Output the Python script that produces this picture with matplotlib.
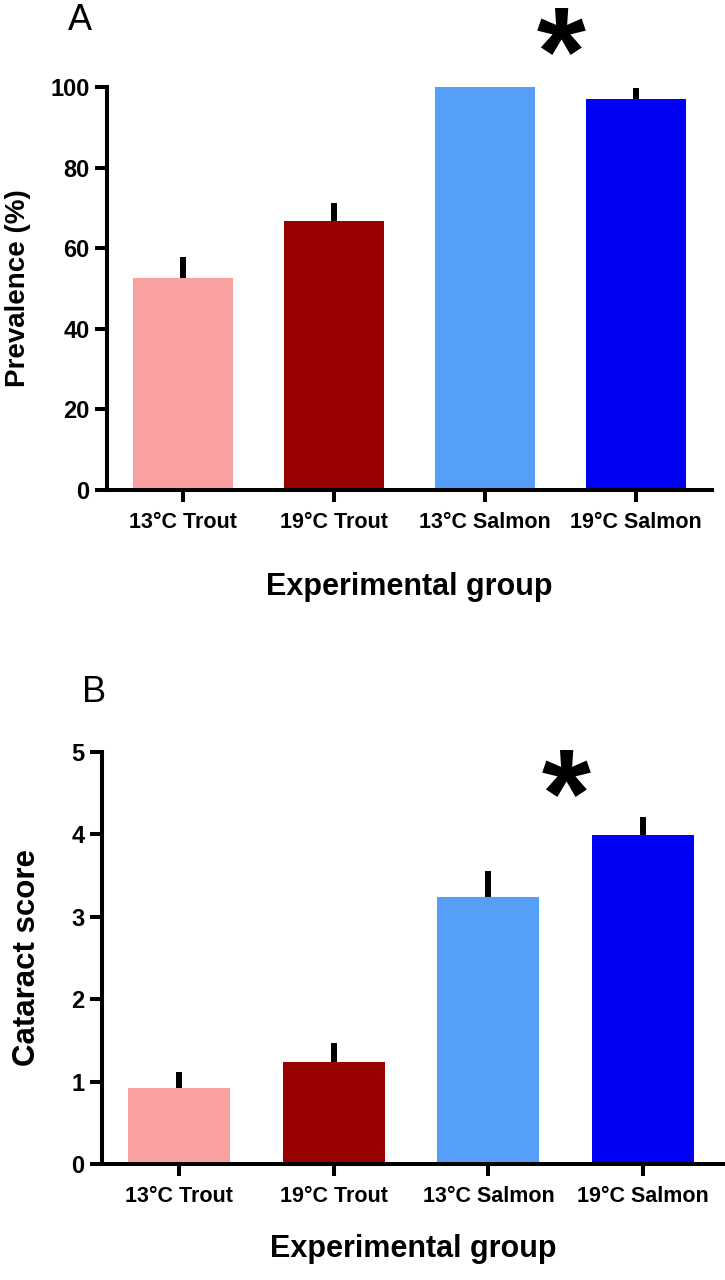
import matplotlib
matplotlib.use("Agg")
import matplotlib.pyplot as plt
import numpy as np
from matplotlib.textpath import TextPath
from matplotlib.path import Path
from matplotlib.font_manager import FontProperties

# ---------------- data ----------------
groups = ["13°C Trout", "19°C Trout", "13°C Salmon", "19°C Salmon"]
colors = ["#FBA0A0", "#990000", "#569FF9", "#0000F5"]

prevalence = [52.7, 66.8, 100.0, 97.1]
prevalence_err = [5.2, 4.3, 0.0, 2.7]

cataract = [0.92, 1.24, 3.24, 3.99]
cataract_err = [0.20, 0.23, 0.32, 0.22]

sig_pos_A = (2.5, 114.0)
sig_pos_B = (2.5, 4.75)

FONT = "Liberation Sans"
plt.rcParams["font.family"] = [FONT, "DejaVu Sans"]

fig = plt.figure(figsize=(7.25, 12.8), dpi=100)

# asterisk marker from glyph, centred on its ink box
tp = TextPath((0, 0), "*", size=1, prop=FontProperties(family=FONT, weight="bold"))
codes = tp.codes
v = tp.vertices.copy()
real = codes != Path.CLOSEPOLY
c = (v[real].min(axis=0) + v[real].max(axis=0)) / 2
v = v - c
v[~real] = 0.0
star = Path(v, codes)


def panel(rect, values, errs, ylim, yticks, ylabel, ylabel_x, ylabel_size, letter,
          letter_xy, star_xy, xmax, xlabelpad):
    ax = fig.add_axes(rect)
    x = np.arange(len(values))
    ax.bar(x, values, width=0.66, color=colors, zorder=2)
    ax.errorbar(x, values, yerr=[np.zeros(len(errs)), errs], fmt="none",
                ecolor="black", elinewidth=4.3, capsize=0, zorder=3)
    ax.set_xlim(-0.5, xmax)
    ax.set_ylim(*ylim)
    ax.set_yticks(yticks)
    ax.set_xticks(x)
    ax.set_xticklabels(groups, fontsize=15.5, fontweight="bold")
    for lab in ax.get_yticklabels():
        lab.set_fontsize(17)
        lab.set_fontweight("bold")
    for s in ["top", "right"]:
        ax.spines[s].set_visible(False)
    for s in ["left", "bottom"]:
        ax.spines[s].set_linewidth(2.9)
    ax.tick_params(axis="both", length=8.6, width=2.9, direction="out")
    ax.tick_params(axis="y", pad=4)
    ax.tick_params(axis="x", pad=7)
    ax.set_ylabel(ylabel, fontsize=ylabel_size, fontweight="bold")
    ax.yaxis.set_label_coords(ylabel_x, 0.5)
    ax.set_xlabel("Experimental group", fontsize=22, fontweight="bold",
                  labelpad=xlabelpad)
    ax.plot([star_xy[0]], [star_xy[1]], marker=star, ms=35, mew=0,
            color="black", clip_on=False, linestyle="none")
    fig.text(letter_xy[0], letter_xy[1], letter, fontsize=26, ha="left", va="baseline")
    return ax


panel([107 / 725, 1 - 490 / 1280, 605 / 725, 403 / 1280],
      prevalence, prevalence_err, (0, 100), [0, 20, 40, 60, 80, 100],
      "Prevalence (%)", -0.125, 20, "A", (68 / 725, 1 - 30 / 1280), sig_pos_A, 3.5, 28)

panel([102 / 725, 1 - 1164 / 1280, 623 / 725, 412 / 1280],
      cataract, cataract_err, (0, 5), [0, 1, 2, 3, 4, 5],
      "Cataract score", -0.096, 22.5, "B", (82 / 725, 1 - 702 / 1280), sig_pos_B, 3.53, 20)

fig.savefig("out.png", dpi=100)
